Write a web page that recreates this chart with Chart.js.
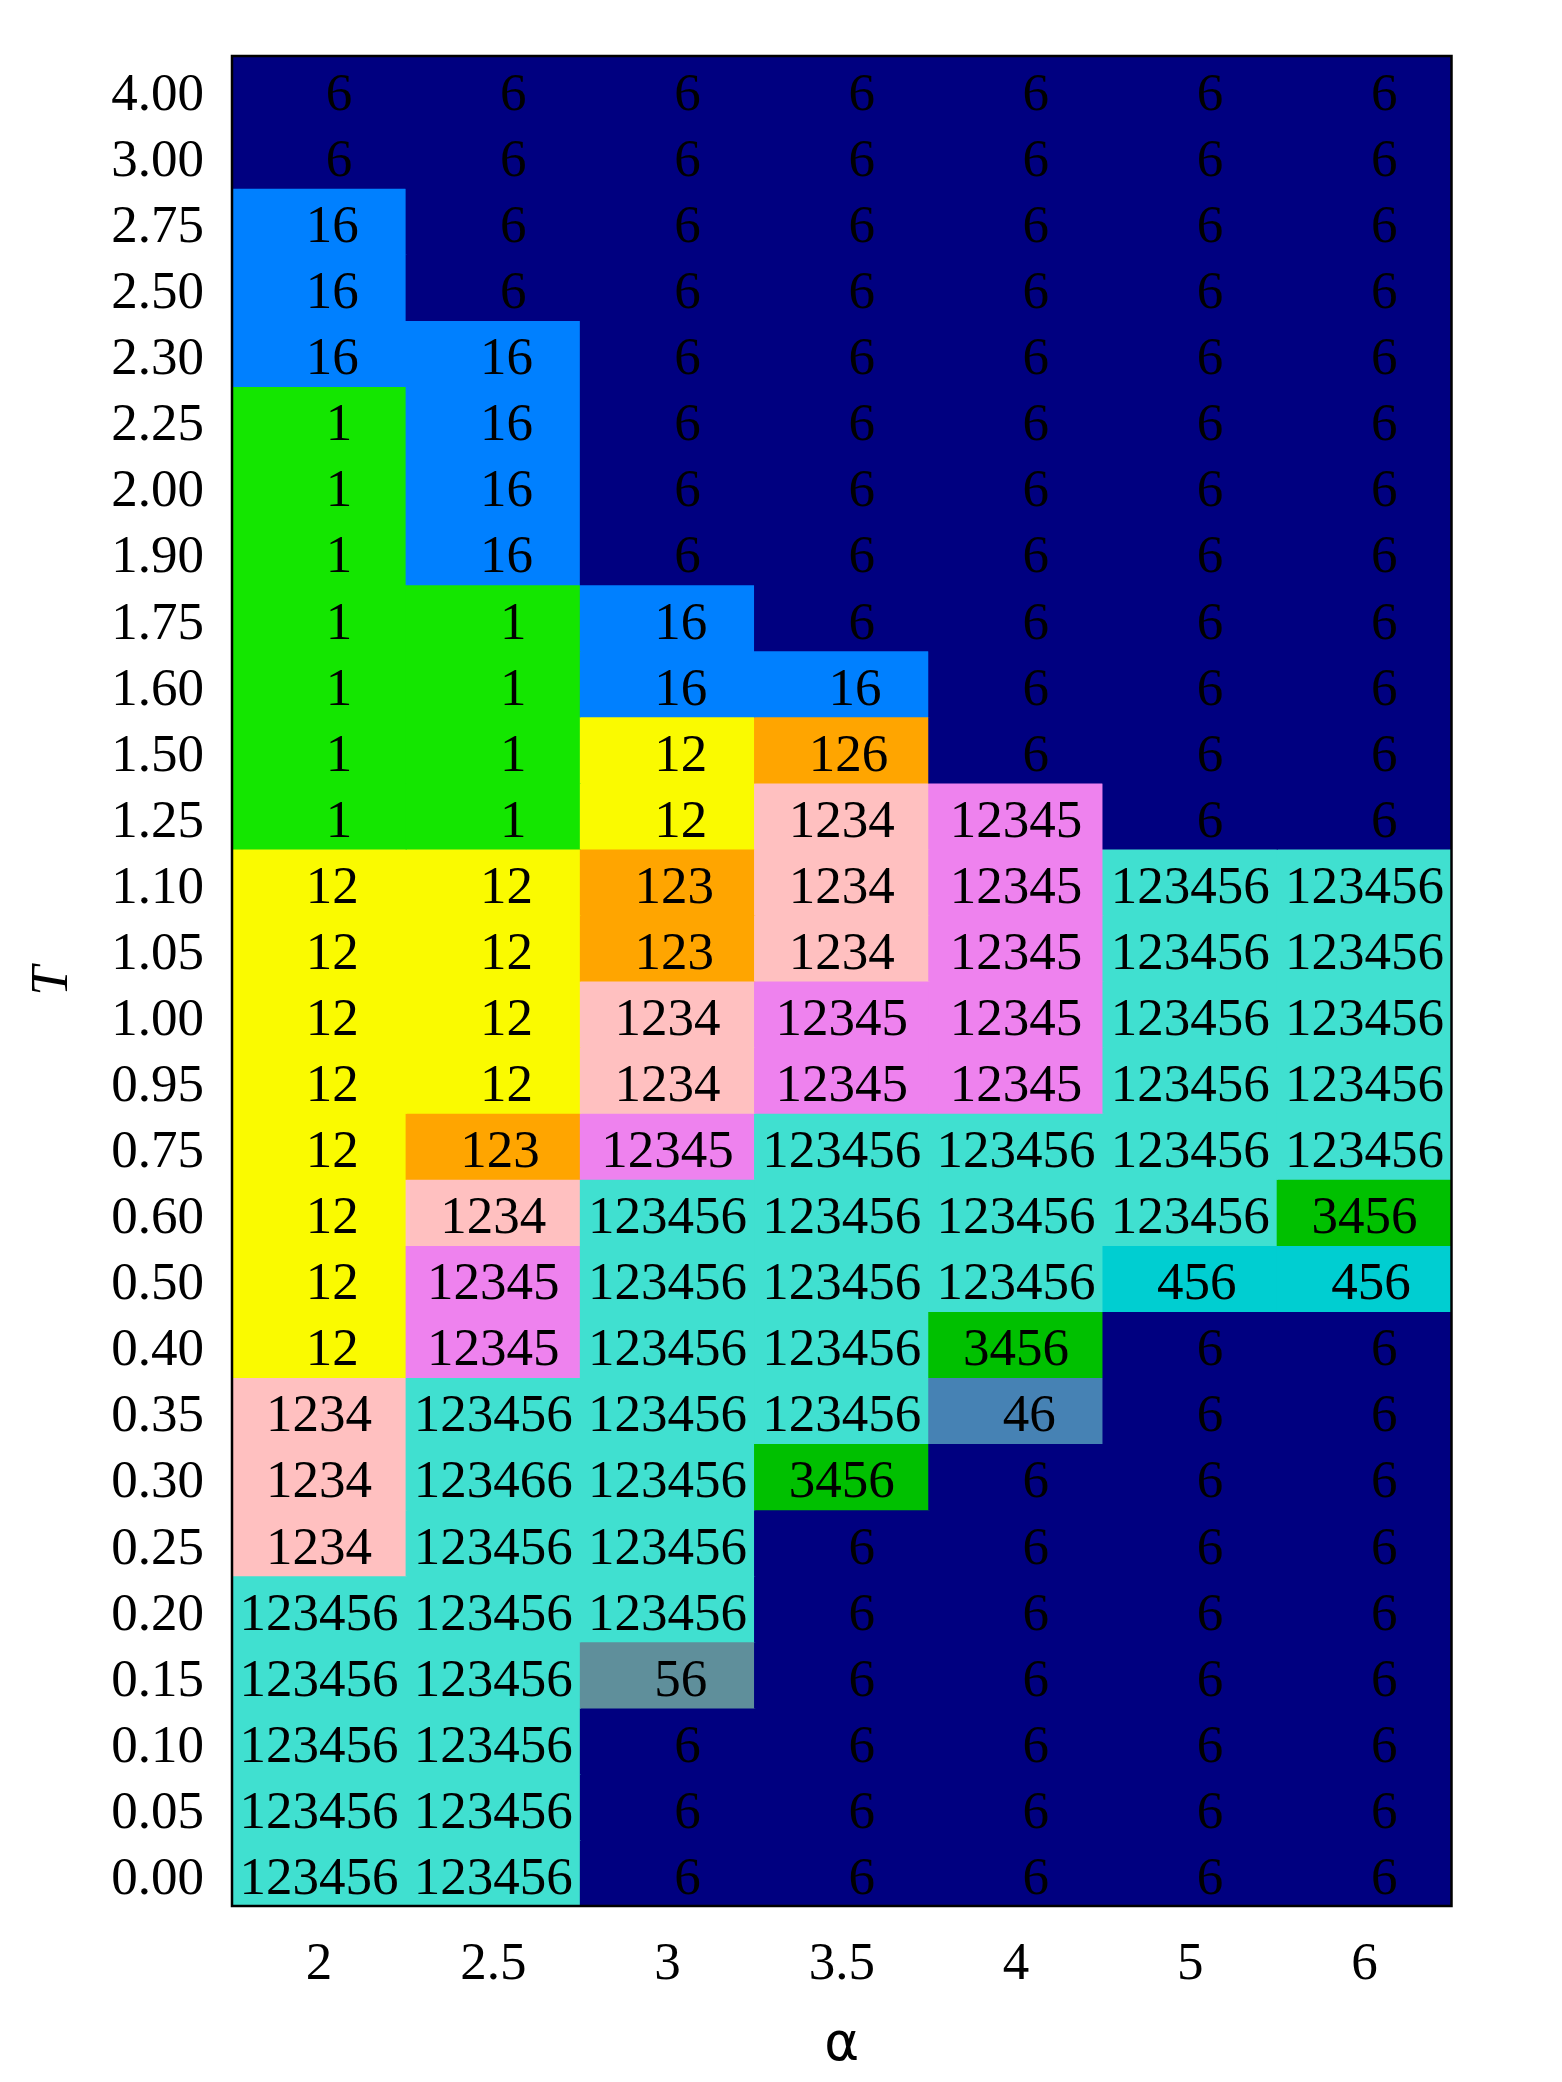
<!DOCTYPE html>
<html>
<head>
<meta charset="utf-8">
<script src="https://cdn.jsdelivr.net/npm/chart.js@4.4.1/dist/chart.umd.min.js"></script>
<style>
  html, body { margin: 0; padding: 0; background: #ffffff; }
  canvas { display: block; }
</style>
</head>
<body>
<canvas id="c" width="1562" height="2082" style="width:1562px;height:2082px"></canvas>
<script>
// ---- data ----
const alphaLabels = ['2', '2.5', '3', '3.5', '4', '5', '6'];
const tLabels = ['4.00','3.00','2.75','2.50','2.30','2.25','2.00','1.90','1.75','1.60','1.50','1.25',
                 '1.10','1.05','1.00','0.95','0.75','0.60','0.50','0.40','0.35','0.30','0.25','0.20',
                 '0.15','0.10','0.05','0.00'];
// phases per row (top row T=4.00 first), one entry per alpha
const row_4_00 = ['6','6','6','6','6','6','6'];
const row_3_00 = ['6','6','6','6','6','6','6'];
const row_2_75 = ['16','6','6','6','6','6','6'];
const row_2_50 = ['16','6','6','6','6','6','6'];
const row_2_30 = ['16','16','6','6','6','6','6'];
const row_2_25 = ['1','16','6','6','6','6','6'];
const row_2_00 = ['1','16','6','6','6','6','6'];
const row_1_90 = ['1','16','6','6','6','6','6'];
const row_1_75 = ['1','1','16','6','6','6','6'];
const row_1_60 = ['1','1','16','16','6','6','6'];
const row_1_50 = ['1','1','12','126','6','6','6'];
const row_1_25 = ['1','1','12','1234','12345','6','6'];
const row_1_10 = ['12','12','123','1234','12345','123456','123456'];
const row_1_05 = ['12','12','123','1234','12345','123456','123456'];
const row_1_00 = ['12','12','1234','12345','12345','123456','123456'];
const row_0_95 = ['12','12','1234','12345','12345','123456','123456'];
const row_0_75 = ['12','123','12345','123456','123456','123456','123456'];
const row_0_60 = ['12','1234','123456','123456','123456','123456','3456'];
const row_0_50 = ['12','12345','123456','123456','123456','456','456'];
const row_0_40 = ['12','12345','123456','123456','3456','6','6'];
const row_0_35 = ['1234','123456','123456','123456','46','6','6'];
const row_0_30 = ['1234','123466','123456','3456','6','6','6'];
const row_0_25 = ['1234','123456','123456','6','6','6','6'];
const row_0_20 = ['123456','123456','123456','6','6','6','6'];
const row_0_15 = ['123456','123456','56','6','6','6','6'];
const row_0_10 = ['123456','123456','6','6','6','6','6'];
const row_0_05 = ['123456','123456','6','6','6','6','6'];
const row_0_00 = ['123456','123456','6','6','6','6','6'];
const rows = [row_4_00,row_3_00,row_2_75,row_2_50,row_2_30,row_2_25,row_2_00,row_1_90,row_1_75,row_1_60,
              row_1_50,row_1_25,row_1_10,row_1_05,row_1_00,row_0_95,row_0_75,row_0_60,row_0_50,row_0_40,
              row_0_35,row_0_30,row_0_25,row_0_20,row_0_15,row_0_10,row_0_05,row_0_00];

// phase -> fill colour
const phaseColors = {
  '6': '#000080',
  '16': '#0080FF',
  '1': '#14E600',
  '12': '#FAFA00',
  '123': '#FFA500',
  '126': '#FFA500',
  '1234': '#FFC0C0',
  '12345': '#EE82EE',
  '123456': '#40E0D0',
  '123466': '#40E0D0',
  '3456': '#00C000',
  '456': '#00CED1',
  '46': '#4682B4',
  '56': '#5F8F9B'
};

const SERIF = 'Liberation Serif';
const FS = 53;

const datasets = rows.map((row, r) => ({
  label: tLabels[r],
  data: row.map(() => [r - 0.5, r + 0.5]),
  cellText: row,
  backgroundColor: row.map(p => phaseColors[p]),
  borderWidth: 0,
  inflateAmount: 0.6,
  grouped: false,
  categoryPercentage: 1.0,
  barPercentage: 1.0
}));

const cellTextPlugin = {
  id: 'cellText',
  afterDatasetsDraw(chart) {
    const ctx = chart.ctx;
    ctx.save();
    ctx.font = FS + 'px "' + SERIF + '"';
    ctx.fillStyle = '#000000';
    ctx.textAlign = 'center';
    ctx.textBaseline = 'middle';
    chart.data.datasets.forEach((ds, di) => {
      const meta = chart.getDatasetMeta(di);
      meta.data.forEach((bar, i) => {
        const p = bar.getCenterPoint();
        const txt = String(ds.cellText[i]).padStart(4, ' ');
        ctx.fillText(txt, p.x, p.y + 7);
      });
    });
    // frame
    const a = chart.chartArea;
    ctx.strokeStyle = '#000000';
    ctx.lineWidth = 2.5;
    ctx.strokeRect(a.left, a.top, a.right - a.left, a.bottom - a.top);
    ctx.restore();
  }
};

new Chart(document.getElementById('c'), {
  type: 'bar',
  data: { labels: alphaLabels, datasets },
  plugins: [cellTextPlugin],
  options: {
    responsive: false,
    animation: false,
    devicePixelRatio: 1,
    layout: { padding: { left: 0, top: 56, right: 110.5, bottom: 0 } },
    plugins: { legend: { display: false }, tooltip: { enabled: false } },
    scales: {
      x: {
        type: 'category',
        offset: true,
        grid: { display: false, drawTicks: false },
        border: { display: false },
        ticks: {
          color: '#000000',
          font: { family: SERIF, size: FS, lineHeight: 1 },
          padding: 33,
          maxRotation: 0,
          autoSkip: false
        },
        title: {
          display: true,
          text: 'α',
          color: '#000000',
          font: { family: 'DejaVu Sans', size: FS, lineHeight: 1 },
          padding: { top: 0, bottom: 9.5 }
        },
        afterFit(scale) { scale.height = 176; }
      },
      y: {
        type: 'linear',
        min: -0.5,
        max: 27.5,
        reverse: true,
        grid: { display: false, drawTicks: false },
        border: { display: false },
        afterBuildTicks(scale) { scale.ticks = tLabels.map((_, i) => ({ value: i })); },
        ticks: {
          color: '#000000',
          font: { family: SERIF, size: FS, lineHeight: 1 },
          padding: 28,
          labelOffset: 7,
          autoSkip: false,
          callback: (v) => tLabels[v]
        },
        title: {
          display: true,
          text: 'T',
          color: '#000000',
          font: { family: SERIF, size: FS, style: 'italic', lineHeight: 1 },
          padding: { top: 26.5, bottom: 0 }
        },
        afterFit(scale) { scale.width = 232; }
      }
    }
  }
});
</script>
</body>
</html>
